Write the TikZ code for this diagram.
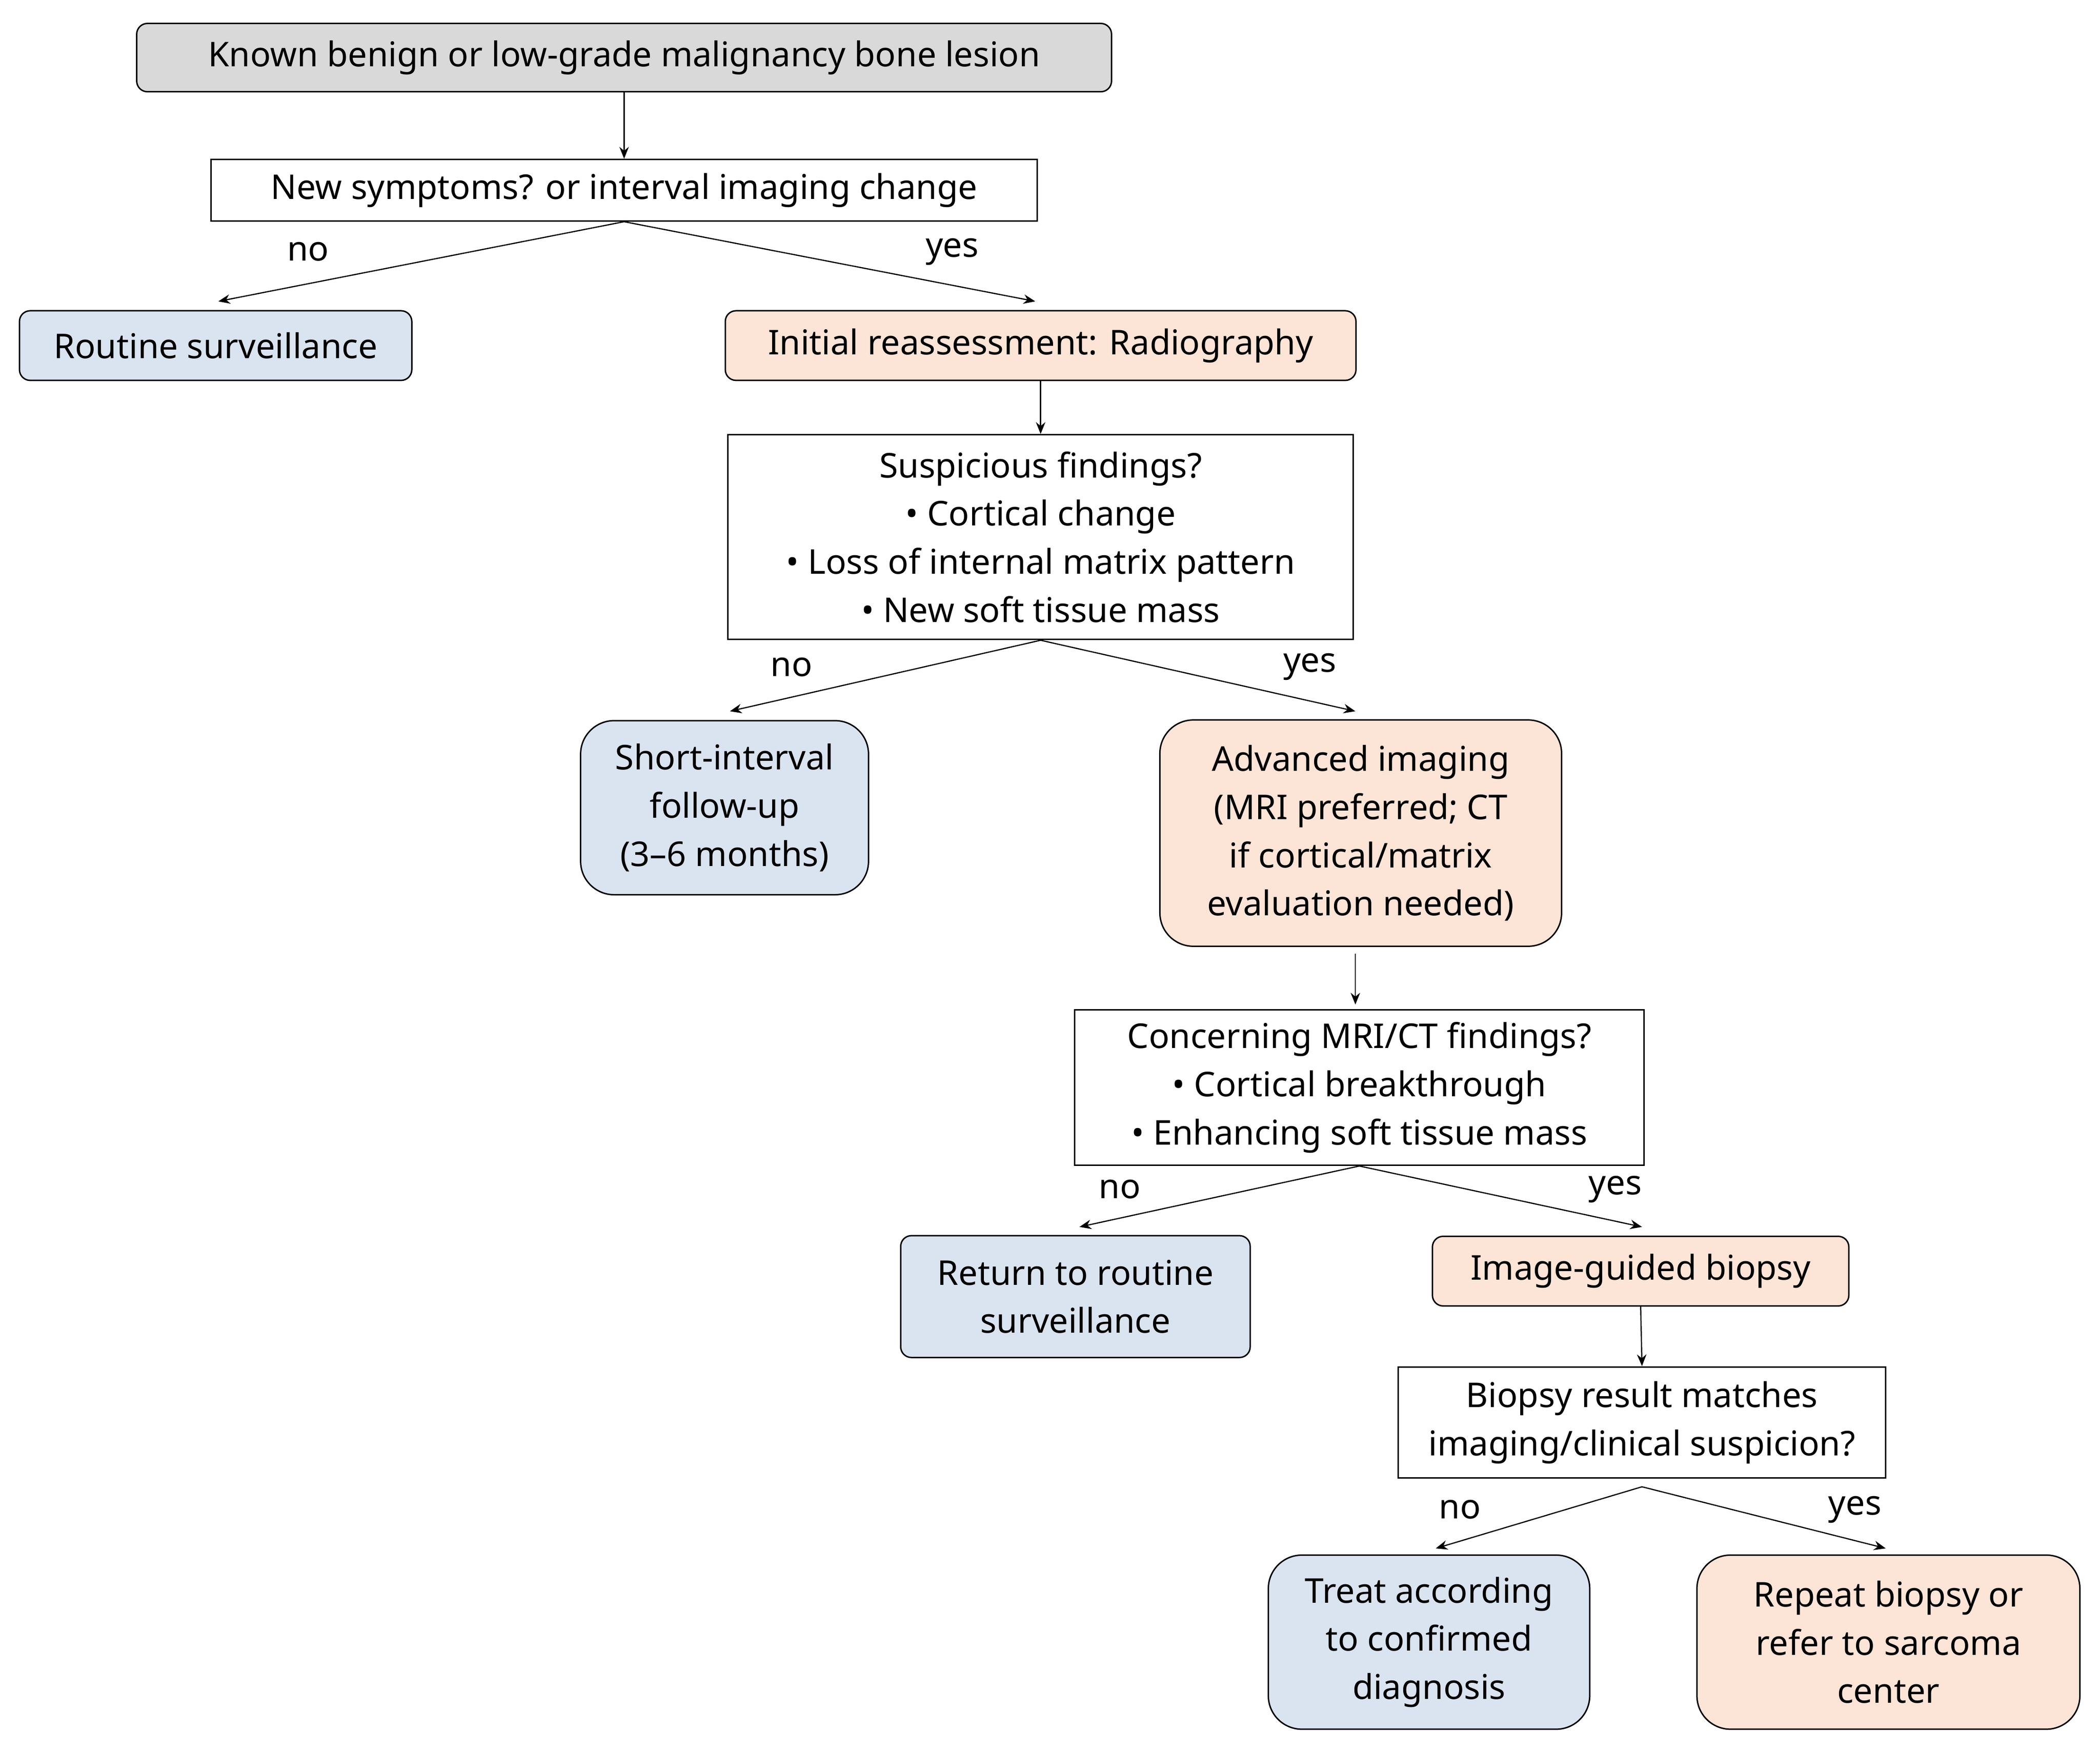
\documentclass[tikz,border=0pt]{standalone}
\usepackage{fontspec}
\setmainfont{Noto Sans}
\usetikzlibrary{arrows.meta}
\definecolor{gr}{HTML}{D9D9D9}
\definecolor{bl}{HTML}{DAE3F0}
\definecolor{or}{HTML}{FCE4D6}
\begin{document}
\begin{tikzpicture}[x=0.02cm,y=-0.02cm,
  bx/.style={draw,line width=0.6pt,align=center,inner sep=0pt,font=\fontsize{14.5}{20.5}\selectfont},
  sq/.style={bx,fill=white},
  rs/.style={bx,rounded corners=0.16cm},
  rl/.style={bx,rounded corners=0.5cm},
  ar/.style={-{Stealth[length=5pt,width=4pt]},line width=0.5pt},
  lb/.style={font=\fontsize{14.5}{17}\selectfont}]
\useasboundingbox (0,0) rectangle (1568,1308);
\node[rs,fill=gr,minimum width=14.56cm,minimum height=1.02cm] (n1) at (466,43) {Known benign or low-grade malignancy bone lesion};
\node[sq,minimum width=12.34cm,minimum height=0.92cm] (n2) at (466,142) {New symptoms? or interval imaging change};
\node[rs,fill=bl,minimum width=5.86cm,minimum height=1.04cm] (n3) at (161,258) {Routine surveillance};
\node[rs,fill=or,minimum width=9.42cm,minimum height=1.04cm] (n4) at (777,258) {Initial reassessment: Radiography};
\node[sq,minimum width=9.34cm,minimum height=3.06cm] (n5) at (777,401) {Suspicious findings?\\ • Cortical change\\ • Loss of internal matrix pattern\\ • New soft tissue mass};
\node[rl,fill=bl,minimum width=4.3cm,minimum height=2.6cm] (n6) at (541,603) {Short-interval\\ follow-up\\ (3–6 months)};
\node[rl,fill=or,minimum width=6.0cm,minimum height=3.38cm] (n7) at (1016,622) {Advanced imaging\\ (MRI preferred; CT\\ if cortical/matrix\\ evaluation needed)};
\node[sq,minimum width=8.5cm,minimum height=2.32cm] (n8) at (1015,812) {Concerning MRI/CT findings?\\ • Cortical breakthrough\\ • Enhancing soft tissue mass};
\node[rs,fill=bl,minimum width=5.22cm,minimum height=1.82cm] (n9) at (803,968) {Return to routine\\ surveillance};
\node[rs,fill=or,minimum width=6.22cm,minimum height=1.04cm] (n10) at (1225,949) {Image-guided biopsy};
\node[sq,minimum width=7.28cm,minimum height=1.66cm] (n11) at (1226,1062) {Biopsy result matches\\ imaging/clinical suspicion?};
\node[rl,fill=bl,minimum width=4.8cm,minimum height=2.6cm] (n12) at (1067,1226) {Treat according\\ to confirmed\\ diagnosis};
\node[rl,fill=or,minimum width=5.72cm,minimum height=2.6cm] (n13) at (1410,1226) {Repeat biopsy or\\ refer to sarcoma\\ center};
\coordinate (a3) at (163,225); \coordinate (a4) at (773,225);
\coordinate (a6) at (545,531); \coordinate (a7) at (1012,531);
\coordinate (s7) at (1012,712); \coordinate (a8) at (1012,750);
\coordinate (a9) at (806,916); \coordinate (a10) at (1226,916);
\coordinate (a12) at (1072,1156); \coordinate (a13) at (1408,1156);
\coordinate (s11) at (1226,1110);
\draw[ar] (n1.south) -- (n2.north);
\draw[ar] (n2.south) -- (a3);
\draw[ar] (n2.south) -- (a4);
\draw[ar] (n4.south) -- (n5.north);
\draw[ar] (n5.south) -- (a6);
\draw[ar] (n5.south) -- (a7);
\draw[ar] (s7) -- (a8);
\draw[ar] (n8.south) -- (a9);
\draw[ar] (n8.south) -- (a10);
\draw[ar] (n10.south) -- (n11.north);
\draw[ar] (s11) -- (a12);
\draw[ar] (s11) -- (a13);
\node[lb] (l1) at (230,188) {no}; \node[lb] (l2) at (711,188) {yes};
\node[lb] (l3) at (591,498) {no}; \node[lb] (l4) at (978,498) {yes};
\node[lb] (l5) at (836,888) {no}; \node[lb] (l6) at (1206,888) {yes};
\node[lb] (l7) at (1090,1127) {no}; \node[lb] (l8) at (1385,1127) {yes};
\end{tikzpicture}
\end{document}
